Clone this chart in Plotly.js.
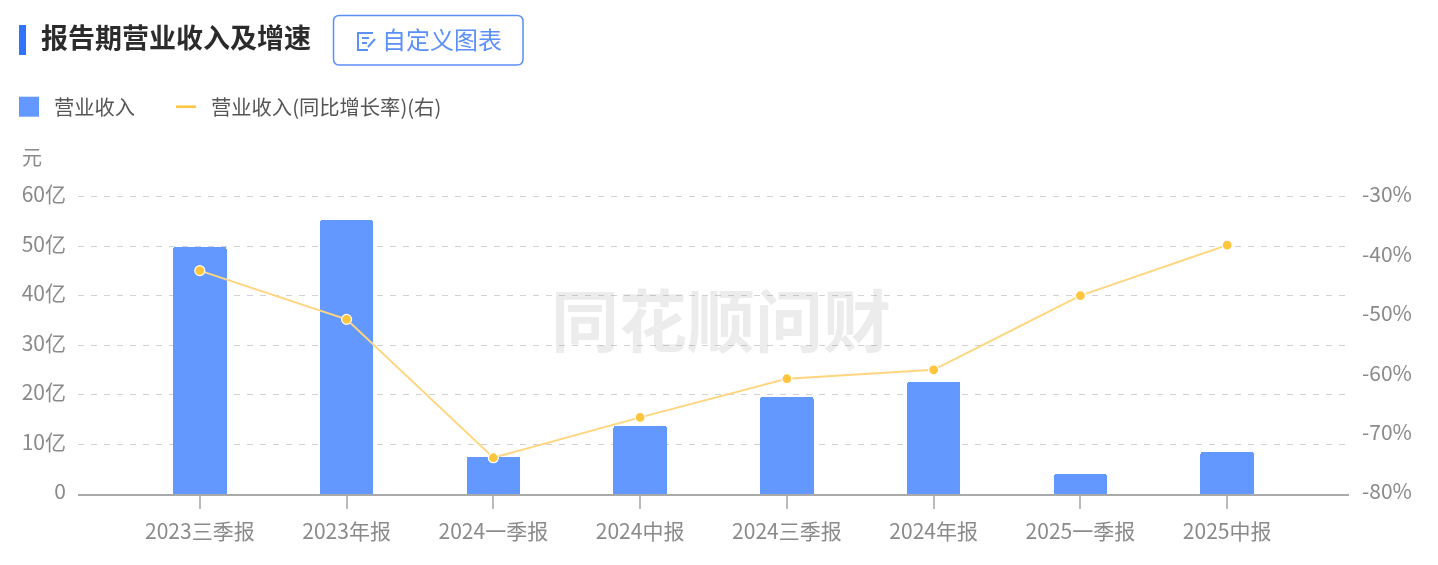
<!DOCTYPE html>
<html><head><meta charset="utf-8">
<script src="https://cdn.plot.ly/plotly-3.0.1.min.js"></script>
<style>html,body{margin:0;padding:0;background:#fff}#c{width:1438px;height:565px;filter:blur(0.4px)}</style>
</head><body><div id="c"></div>
<script>
const categories=['2023三季报','2023年报','2024一季报','2024中报','2024三季报','2024年报','2025一季报','2025中报'];
const revenue=[49.9,55.3,7.5,13.7,19.6,22.6,4.0,8.5];
const growth=[-42.4,-50.6,-73.9,-67.1,-60.6,-59.1,-46.6,-38.1];
const leftTicks=[0,10,20,30,40,50,60];
const leftLabels=['0','10亿','20亿','30亿','40亿','50亿','60亿'];
const rightTicks=[-80,-70,-60,-50,-40,-30];
const rightLabels=['-80%','-70%','-60%','-50%','-40%','-30%'];
const W=1438,H=565,L=78,R=89,T=194,B=71;
const px=x=>(x-L)/(W-L-R), py=y=>(H-B-y)/(H-T-B);
const FF='"Noto Sans CJK SC","Noto Sans",sans-serif';
const tickFont={family:FF,size:21,color:'#8a8a8a'};
const indices=categories.map((_,i)=>i);
const btn=(x0,y0,x1,y1,r)=>`M${px(x0+r)},${py(y0)} L${px(x1-r)},${py(y0)} Q${px(x1)},${py(y0)} ${px(x1)},${py(y0+r)} L${px(x1)},${py(y1-r)} Q${px(x1)},${py(y1)} ${px(x1-r)},${py(y1)} L${px(x0+r)},${py(y1)} Q${px(x0)},${py(y1)} ${px(x0)},${py(y1-r)} L${px(x0)},${py(y0+r)} Q${px(x0)},${py(y0)} ${px(x0+r)},${py(y0)} Z`;
const traces=[
 {type:'bar',name:'营业收入',x:indices,y:revenue,width:0.365,marker:{color:'#6298FF',cornerradius:2},yaxis:'y'},
 {type:'scatter',mode:'lines',name:'营业收入(同比增长率)(右)',x:indices,y:growth,yaxis:'y2',line:{color:'#FFD67F',width:2}},
 {type:'scatter',mode:'markers',showlegend:false,x:indices,y:growth,yaxis:'y2',marker:{color:'#FFC53D',size:10,line:{color:'#fff',width:1.2}}}
];
const layout={
 width:W,height:H,margin:{l:L,r:R,t:T,b:B,pad:0},paper_bgcolor:'#fff',plot_bgcolor:'#fff',bargap:0,
 font:{family:FF},
 title:{text:'<b>报告期营业收入及增速</b>',font:{family:FF,size:27,color:'#2b2b2b'},x:41/W,xanchor:'left',xref:'container',y:1-39/H,yanchor:'middle',yref:'container',automargin:false},
 showlegend:true,
 legend:{orientation:'h',x:px(12),xanchor:'left',y:py(107),yanchor:'middle',font:{family:FF,size:20.3,color:'#555'},itemwidth:30,traceorder:'normal',bgcolor:'rgba(0,0,0,0)'},
 xaxis:{type:'linear',range:[-0.83,7.83],tickmode:'array',tickvals:indices,ticktext:categories,tickfont:tickFont,ticks:'outside',ticklen:13,tickwidth:2,tickcolor:'#bbb',showline:true,linecolor:'#aaa',linewidth:2,showgrid:false,zeroline:false,ticklabelstandoff:5},
 yaxis:{range:[0,60.6],tickmode:'array',tickvals:leftTicks,ticktext:leftLabels,tickfont:tickFont,ticks:'',showline:false,gridcolor:'#d2d2d2',griddash:'6px,7px',gridwidth:1,zeroline:false,ticklabelstandoff:11,ticklabelshift:-2},
 yaxis2:{range:[-80,-29.5],overlaying:'y',side:'right',anchor:'x',tickmode:'array',tickvals:rightTicks,ticktext:rightLabels,tickfont:tickFont,ticks:'',showgrid:false,showline:false,zeroline:false,ticklabelstandoff:12,ticklabelshift:-2},
 shapes:[
  {type:'rect',xref:'paper',yref:'paper',x0:px(19),x1:px(26),y0:py(55),y1:py(25),fillcolor:'#2F74FB',line:{width:0},layer:'above'},
  {type:'path',xref:'paper',yref:'paper',path:btn(333.5,15.5,523,65,6),fillcolor:'#fff',line:{color:'#5B8FF9',width:1.5},layer:'below'},
  {type:'path',xref:'paper',yref:'paper',path:`M${px(373)},${py(33)} L${px(358)},${py(33)} L${px(358)},${py(50)} L${px(368)},${py(50)}`,line:{color:'#5B8FF9',width:2},layer:'above'},
  {type:'path',xref:'paper',yref:'paper',path:`M${px(362)},${py(38)} L${px(369)},${py(38)} M${px(362)},${py(43)} L${px(367)},${py(43)} M${px(375)},${py(39)} L${px(368)},${py(47)}`,line:{color:'#5B8FF9',width:2},layer:'above'}
 ],
 annotations:[
  {xref:'paper',yref:'paper',x:px(380),y:py(38),xanchor:'left',yanchor:'middle',text:'自定义图表',showarrow:false,font:{family:FF,size:24,color:'#5B8FF9'}},
  {xref:'paper',yref:'paper',x:px(20),y:py(156),xanchor:'left',yanchor:'middle',text:'元',showarrow:false,font:{family:FF,size:20,color:'#8a8a8a'}},
  {xref:'paper',yref:'paper',x:px(721),y:py(317),xanchor:'center',yanchor:'middle',text:'<b>同花顺问财</b>',showarrow:false,font:{family:FF,size:68,color:'rgba(150,150,150,0.18)'}}
 ]
};
Plotly.newPlot('c',traces,layout,{displayModeBar:false,staticPlot:true}).then(gd=>{
 const shiftTo=(el,left)=>{const r=el.getBoundingClientRect();const old=el.getAttribute('transform')||'';el.setAttribute('transform',`translate(${left-r.left},0) ${old}`);};
 const sb=gd.querySelector('.legend .scrollbox');if(sb)sb.removeAttribute('clip-path');
 const items=gd.querySelectorAll('.legend .traces');
 const bar=items[0].querySelector('.legendpoints path');
 if(bar){bar.setAttribute('d','M-10,-10h20v20h-20z');shiftTo(bar,19);}
 shiftTo(items[0].querySelector('.legendtext'),54);
 const ln=items[1].querySelector('.legendlines path');
 if(ln){ln.setAttribute('d','M0,0h20');ln.style.stroke='#FFC53D';ln.style.strokeWidth='2.5px';shiftTo(ln,176);}
 shiftTo(items[1].querySelector('.legendtext'),211);
});
</script></body></html>
